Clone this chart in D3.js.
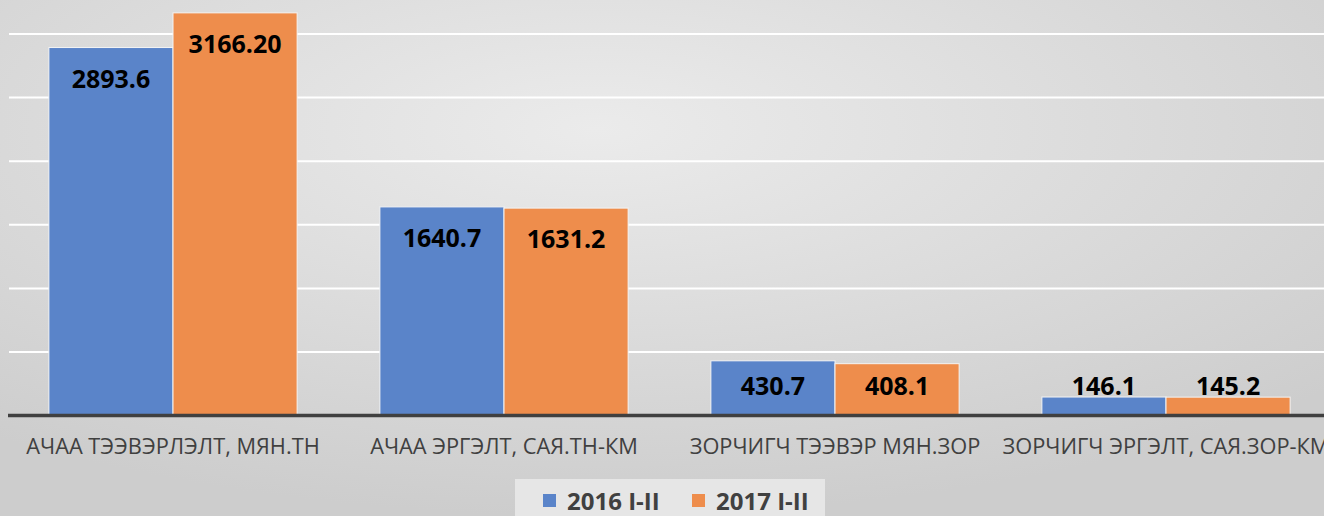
<!DOCTYPE html>
<html>
<head>
<meta charset="UTF-8">
<title>Тээвэр 2016-2017</title>
<style>
  html, body { margin: 0; padding: 0; overflow: hidden; }
  svg { display: block; font-family: "Open Sans", sans-serif; }
</style>
</head>
<body>
<svg></svg>
<script src="https://d3js.org/d3.v7.min.js"></script>
<script>

// chart data
const categories = ["АЧАА ТЭЭВЭРЛЭЛТ, МЯН.ТН", "АЧАА ЭРГЭЛТ, САЯ.ТН-КМ", "ЗОРЧИГЧ ТЭЭВЭР МЯН.ЗОР", "ЗОРЧИГЧ ЭРГЭЛТ, САЯ.ЗОР-КМ"];
const seriesNames = ["2016 I-II", "2017 I-II"];
const values2016 = [2893.6, 1640.7, 430.7, 146.1];
const values2017 = [3166.2, 1631.2, 408.1, 145.2];
const labels2016 = ["2893.6", "1640.7", "430.7", "146.1"];
const labels2017 = ["3166.20", "1631.2", "408.1", "145.2"];
const gridTicks = [500, 1000, 1500, 2000, 2500, 3000];

let width = 1324, height = 516;
const colors = ["#5a84c9", "#ee8d4c"];

let svg = d3.select("svg")
  .attr("width", width)
  .attr("height", height);

// background gradient
let defs = svg.append("defs");
let grad = defs.append("radialGradient")
  .attr("id", "bg")
  .attr("cx", "45%").attr("cy", "25%").attr("r", "75%");
grad.append("stop").attr("offset", "0%").attr("stop-color", "#ebebeb");
grad.append("stop").attr("offset", "100%").attr("stop-color", "#cdcdcd");

svg.append("rect")
  .attr("width", width).attr("height", height)
  .attr("fill", "url(#bg)");

// scales
let x = d3.scaleBand()
  .domain(categories)
  .range([7.5, 1331.5])
  .paddingInner(0.25)
  .paddingOuter(0.125);

let xs = d3.scaleBand()
  .domain(seriesNames)
  .range([0, x.bandwidth()]);

let y = d3.scaleLinear()
  .domain([0, 3000])
  .range([415.6, 34]);

// gridlines
svg.append("g")
  .selectAll("line")
  .data(gridTicks)
  .join("line")
  .attr("x1", 9).attr("x2", width)
  .attr("y1", d => y(d)).attr("y2", d => y(d))
  .attr("stroke", "#ffffff")
  .attr("stroke-width", 2);

// bars
let rows = categories.map((c, i) => ({
  cat: c,
  vals: [
    { s: seriesNames[0], v: values2016[i], label: labels2016[i], color: colors[0] },
    { s: seriesNames[1], v: values2017[i], label: labels2017[i], color: colors[1] }
  ]
}));

let groups = svg.append("g")
  .selectAll("g")
  .data(rows)
  .join("g")
  .attr("transform", d => `translate(${x(d.cat)},0)`);

groups.selectAll("rect")
  .data(d => d.vals)
  .join("rect")
  .attr("x", d => xs(d.s))
  .attr("y", d => y(d.v))
  .attr("width", xs.bandwidth())
  .attr("height", d => y(0) - y(d.v))
  .attr("fill", d => d.color)
  .attr("stroke", "#f4f4f4")
  .attr("stroke-width", 1);

// value labels, inside end (pushed up when bar is short)
groups.selectAll("text")
  .data(d => d.vals)
  .join("text")
  .attr("x", d => xs(d.s) + xs.bandwidth() / 2)
  .attr("y", d => Math.min(y(d.v) + 31, y(0) - 30) + 9)
  .attr("text-anchor", "middle")
  .attr("font-size", 25)
  .attr("font-weight", "bold")
  .attr("fill", "#000")
  .text(d => d.label);

// x axis line
svg.append("line")
  .attr("x1", 8).attr("x2", width)
  .attr("y1", y(0)).attr("y2", y(0))
  .attr("stroke", "#404040")
  .attr("stroke-width", 3.5);

// category labels
svg.append("g")
  .selectAll("text")
  .data(categories)
  .join("text")
  .attr("x", d => x(d) + x.bandwidth() / 2)
  .attr("y", 454)
  .attr("text-anchor", "middle")
  .attr("font-size", 21.8)
  .attr("fill", "#404040")
  .text(d => d);

// legend
let legend = svg.append("g");
legend.append("rect")
  .attr("x", 515).attr("y", 479)
  .attr("width", 310).attr("height", 40)
  .attr("fill", "#e6e6e6");

let legendX = [543, 692];
let items = legend.selectAll("g")
  .data(seriesNames)
  .join("g")
  .attr("transform", (d, i) => `translate(${legendX[i]},0)`);

items.append("rect")
  .attr("x", 0).attr("y", 494)
  .attr("width", 13).attr("height", 13)
  .attr("fill", (d, i) => colors[i]);

items.append("text")
  .attr("x", 24).attr("y", 510)
  .attr("font-size", 24)
  .attr("font-weight", "bold")
  .attr("fill", "#404040")
  .text(d => d);

</script>
</body>
</html>
